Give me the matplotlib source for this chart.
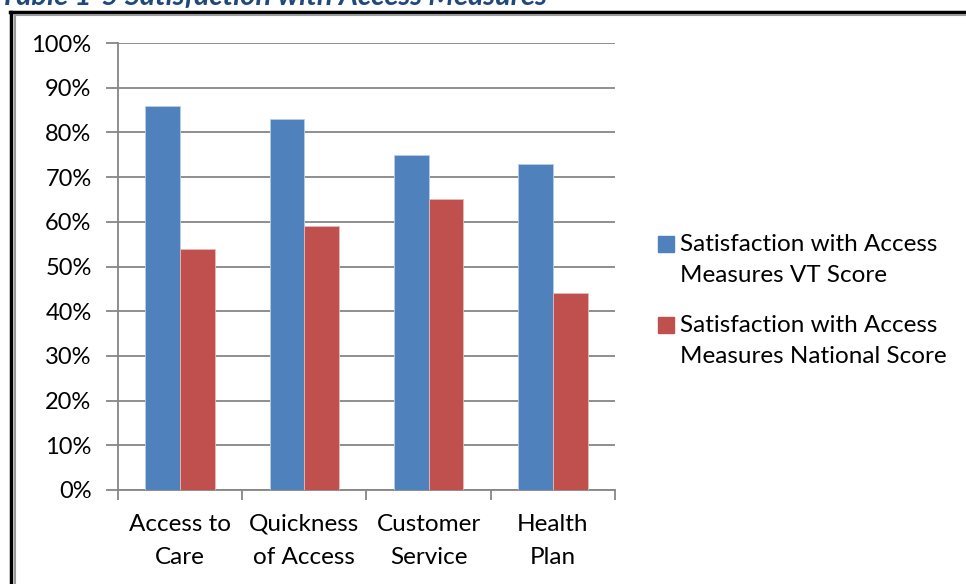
import numpy as np
import matplotlib.pyplot as plt
from matplotlib.patches import Rectangle
from matplotlib.lines import Line2D

plt.rcParams['font.family'] = ['Lato', 'DejaVu Sans']

# Data
categories = ['Access to\nCare', 'Quickness\nof Access', 'Customer\nService', 'Health\nPlan']
vt_score = [86, 83, 75, 73]
national_score = [54, 59, 65, 44]
series_names = ['Satisfaction with Access\nMeasures VT Score',
                'Satisfaction with Access\nMeasures National Score']
colors = ['#4F81BD', '#C0504D']

W, H = 966, 584
fig = plt.figure(figsize=(W / 100, H / 100), dpi=100)

# axes position (pixels -> fractions)
left, right, top, bottom = 118, 615, 43, 490
ax = fig.add_axes([left / W, 1 - bottom / H, (right - left) / W, (bottom - top) / H])

x = np.arange(len(categories))
bw = 0.28
ax.bar(x - bw / 2, vt_score, bw, color=colors[0], edgecolor='#B9CDE5', linewidth=0.6, zorder=3)
ax.bar(x + bw / 2, national_score, bw, color=colors[1], edgecolor='#E6B9B8', linewidth=0.6, zorder=3)

ax.set_xlim(-0.5, len(categories) - 0.5)
ax.set_ylim(0, 100)
ax.set_yticks(range(0, 101, 10))
ax.set_yticklabels([f'{v}%' for v in range(0, 101, 10)], fontsize=17)
ax.yaxis.grid(True, color='#868686', linewidth=1.3, zorder=0)
ax.set_axisbelow(True)

ax.set_xticks(np.arange(-0.5, len(categories), 1.0))
ax.set_xticklabels([])
ax.set_xticks(x, minor=True)
ax.set_xticklabels(categories, minor=True, fontsize=17.5, linespacing=1.7)
ax.tick_params(axis='x', which='major', length=7, width=1.3, color='#868686')
ax.tick_params(axis='x', which='minor', length=0, pad=17)
ax.tick_params(axis='y', length=9, width=1.3, color='#868686', pad=10)

for s in ['top', 'right']:
    ax.spines[s].set_visible(False)
for s in ['left', 'bottom']:
    ax.spines[s].set_color('#868686')
    ax.spines[s].set_linewidth(1.3)

# legend drawn by hand: square aligned with first text line
leg_y = [244, 325]
for name, c, yy in zip(series_names, colors, leg_y):
    fig.add_artist(Rectangle((658 / W, 1 - (yy + 8) / H), 16 / W, 16 / H, color=c,
                             transform=fig.transFigure))
    fig.text(680 / W, 1 - (yy - 10) / H, name, fontsize=17.5, va='top', ha='left',
             linespacing=1.6)

# outer frame
fig.add_artist(Line2D([11 / W, 11 / W], [0, 1 - 12 / H], color='black', linewidth=2.5,
                      transform=fig.transFigure))
fig.add_artist(Line2D([15 / W, 15 / W], [0, 1 - 15 / H], color='#9a9a9a', linewidth=1.5,
                      transform=fig.transFigure))
fig.add_artist(Line2D([10 / W, 1], [1 - 12 / H, 1 - 12 / H], color='black', linewidth=2.5,
                      transform=fig.transFigure))
fig.add_artist(Line2D([15 / W, 1], [1 - 15 / H, 1 - 15 / H], color='#9a9a9a', linewidth=1.5,
                      transform=fig.transFigure))

# cut-off caption
fig.text(0, 1 - 5 / H, 'Table 1-5 Satisfaction with Access Measures', fontsize=21,
         fontweight='bold', style='italic', color='#1F497D', va='baseline', ha='left')

fig.savefig('out.png', dpi=100)
